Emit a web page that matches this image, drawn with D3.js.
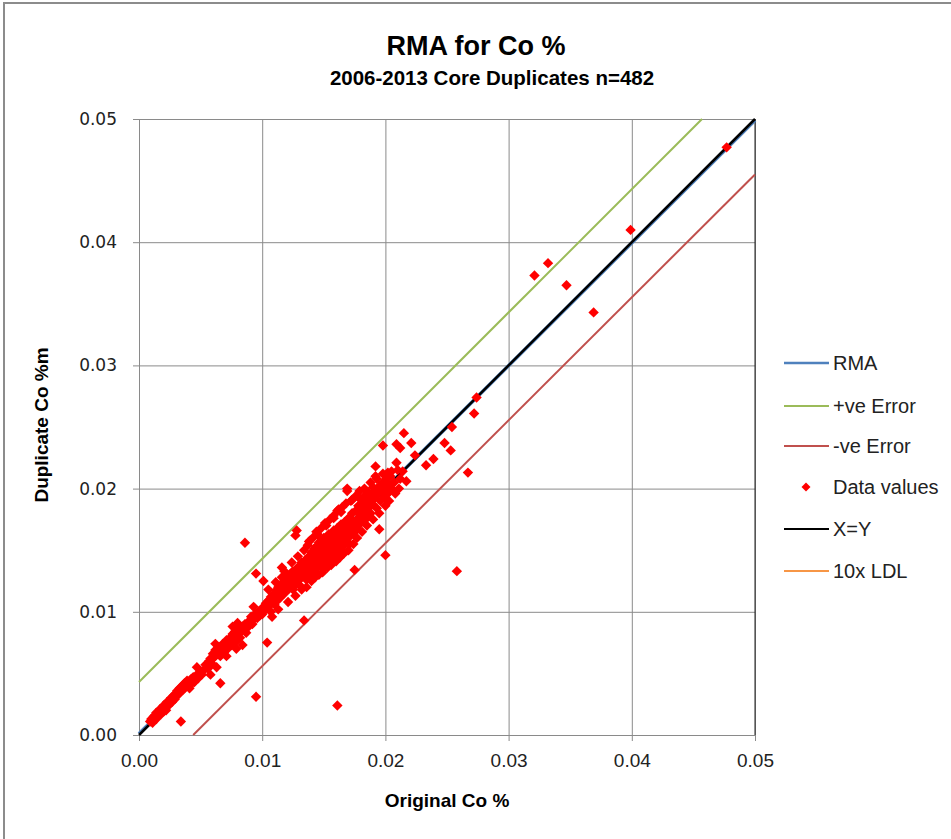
<!DOCTYPE html>
<html>
<head>
<meta charset="utf-8">
<script src="https://cdn.jsdelivr.net/npm/d3@7"></script>
<style>
  body { margin: 0; background: #fff; }
  svg { display: block; }
</style>
</head>
<body>
<div id="chart"></div>
<script>
// ---- data ----
var titleText = "RMA for Co %"
var subtitleText = "2006-2013 Core Duplicates n=482"
var xLabel = "Original Co %"
var yLabel = "Duplicate Co %m"
var tickValues = [0, 0.01, 0.02, 0.03, 0.04, 0.05]

// fitted / reference lines, as [x, y] end points
var rmaLine = [[0, 0.0001], [0.05, 0.0499]]
var posErrorLine = [[0, 0.0043], [0.0457, 0.05]]
var negErrorLine = [[0.0044, 0], [0.05, 0.0455]]
var xyLine = [[0, 0], [0.05, 0.05]]

var legendNames = ["RMA", "+ve Error", "-ve Error", "Data values", "X=Y", "10x LDL"]

// original vs duplicate Co %
var dataValues = [
  [0.0009,0.0011],[0.0010,0.0013],[0.0011,0.0010],[0.0012,0.0015],[0.0012,0.0012],[0.0013,0.0016],
  [0.0014,0.0013],[0.0014,0.0018],[0.0015,0.0015],[0.0016,0.0019],[0.0016,0.0016],[0.0017,0.0021],
  [0.0018,0.0017],[0.0018,0.0020],[0.0019,0.0022],[0.0020,0.0019],[0.0020,0.0024],[0.0021,0.0022],
  [0.0022,0.0025],[0.0022,0.0020],[0.0023,0.0027],[0.0024,0.0024],[0.0025,0.0028],[0.0025,0.0026],
  [0.0026,0.0030],[0.0027,0.0027],[0.0028,0.0032],[0.0029,0.0029],[0.0030,0.0034],[0.0030,0.0031],
  [0.0031,0.0036],[0.0032,0.0033],[0.0034,0.0011],
  [0.0033,0.0038],[0.0034,0.0035],[0.0035,0.0040],[0.0036,0.0037],[0.0037,0.0042],[0.0038,0.0039],
  [0.0039,0.0044],[0.0040,0.0041],[0.0041,0.0038],[0.0042,0.0045],[0.0043,0.0042],[0.0044,0.0047],
  [0.0045,0.0043],[0.0047,0.0049],[0.0048,0.0046],[0.0050,0.0052],[0.0051,0.0049],[0.0053,0.0053],
  [0.0054,0.0057],[0.0056,0.0054],[0.0057,0.0060],[0.0058,0.0062],[0.0059,0.0058],
  [0.0047,0.0055],[0.0058,0.0049],[0.0062,0.0074],[0.0071,0.0064],[0.0076,0.0088],[0.0079,0.0070],
  [0.0080,0.0091],
  [0.0060,0.0066],[0.0061,0.0063],[0.0062,0.0069],[0.0063,0.0055],[0.0064,0.0067],[0.0065,0.0071],
  [0.0066,0.0064],[0.0066,0.0042],[0.0067,0.0069],[0.0068,0.0074],[0.0069,0.0067],[0.0070,0.0072],
  [0.0071,0.0077],[0.0072,0.0070],[0.0073,0.0075],[0.0074,0.0079],[0.0075,0.0073],[0.0076,0.0082],
  [0.0077,0.0078],[0.0078,0.0084],[0.0079,0.0076],[0.0080,0.0081],[0.0081,0.0086],[0.0082,0.0079],
  [0.0083,0.0084],[0.0084,0.0073],[0.0084,0.0088],[0.0085,0.0086],[0.0086,0.0090],[0.0087,0.0083],
  [0.0088,0.0091],[0.0089,0.0088],[0.0090,0.0093],[0.0091,0.0096],[0.0092,0.0090],[0.0093,0.0104],
  [0.0093,0.0094],[0.0094,0.0098],[0.0095,0.0131],[0.0095,0.0031],[0.0096,0.0095],[0.0097,0.0100],
  [0.0098,0.0097],[0.0099,0.0101],[0.0086,0.0156],
  [0.0100,0.0098],[0.0101,0.0104],[0.0101,0.0125],[0.0102,0.0101],[0.0103,0.0107],[0.0104,0.0075],
  [0.0104,0.0103],[0.0105,0.0109],[0.0106,0.0105],[0.0107,0.0112],[0.0107,0.0100],[0.0108,0.0108],
  [0.0109,0.0114],[0.0110,0.0106],[0.0110,0.0111],[0.0111,0.0117],[0.0112,0.0109],[0.0112,0.0113],
  [0.0113,0.0120],[0.0114,0.0111],[0.0114,0.0116],[0.0115,0.0122],[0.0116,0.0113],[0.0116,0.0136],
  [0.0117,0.0118],[0.0117,0.0124],[0.0118,0.0115],[0.0119,0.0121],[0.0119,0.0126],[0.0120,0.0117],
  [0.0120,0.0123],[0.0121,0.0129],[0.0122,0.0119],[0.0122,0.0125],[0.0123,0.0131],[0.0124,0.0121],
  [0.0124,0.0127],[0.0125,0.0133],[0.0125,0.0118],[0.0126,0.0124],[0.0126,0.0130],[0.0127,0.0162],
  [0.0127,0.0122],[0.0128,0.0166],[0.0128,0.0128],[0.0128,0.0135],[0.0129,0.0125],[0.0130,0.0131],
  [0.0130,0.0137],[0.0131,0.0127],[0.0131,0.0121],[0.0132,0.0133],[0.0132,0.0140],[0.0133,0.0129],
  [0.0134,0.0093],[0.0134,0.0136],[0.0135,0.0131],[0.0135,0.0142],[0.0136,0.0126],[0.0136,0.0138],
  [0.0137,0.0134],[0.0138,0.0145],[0.0138,0.0140],[0.0139,0.0130],[0.0139,0.0136],[0.0138,0.0157],
  [0.0105,0.0118],[0.0108,0.0096],[0.0111,0.0124],[0.0113,0.0102],[0.0116,0.0128],[0.0118,0.0133],
  [0.0121,0.0108],[0.0124,0.0140],[0.0127,0.0113],[0.0129,0.0145],[0.0132,0.0118],[0.0134,0.0150],
  [0.0136,0.0120],[0.0137,0.0154],
  [0.0140,0.0142],[0.0140,0.0148],[0.0141,0.0137],[0.0141,0.0133],[0.0142,0.0144],[0.0142,0.0151],
  [0.0143,0.0139],[0.0143,0.0146],[0.0144,0.0135],[0.0144,0.0153],[0.0145,0.0141],[0.0145,0.0148],
  [0.0146,0.0144],[0.0146,0.0156],[0.0147,0.0138],[0.0147,0.0150],[0.0148,0.0146],[0.0148,0.0158],
  [0.0149,0.0142],[0.0149,0.0152],[0.0150,0.0148],[0.0150,0.0135],[0.0150,0.0160],[0.0151,0.0144],
  [0.0151,0.0154],[0.0152,0.0150],[0.0152,0.0140],[0.0153,0.0157],[0.0153,0.0146],[0.0154,0.0152],
  [0.0154,0.0163],[0.0155,0.0148],[0.0155,0.0158],[0.0156,0.0142],[0.0156,0.0154],[0.0157,0.0161],
  [0.0157,0.0150],[0.0158,0.0156],[0.0158,0.0166],[0.0159,0.0146],[0.0159,0.0159],[0.0160,0.0152],
  [0.0160,0.0163],[0.0161,0.0024],[0.0161,0.0157],[0.0161,0.0168],[0.0162,0.0149],[0.0162,0.0160],
  [0.0163,0.0155],[0.0163,0.0165],[0.0164,0.0151],[0.0164,0.0171],[0.0165,0.0158],[0.0165,0.0162],
  [0.0166,0.0154],[0.0166,0.0167],[0.0167,0.0160],[0.0167,0.0173],[0.0168,0.0156],[0.0168,0.0164],
  [0.0169,0.0169],[0.0169,0.0198],[0.0170,0.0161],[0.0170,0.0176],[0.0171,0.0166],[0.0171,0.0155],
  [0.0172,0.0171],[0.0172,0.0162],[0.0173,0.0168],[0.0173,0.0180],[0.0174,0.0164],[0.0174,0.0174],
  [0.0175,0.0134],[0.0175,0.0170],[0.0169,0.0200],[0.0173,0.0191],[0.0162,0.0183],[0.0179,0.0192],
  [0.0152,0.0170],[0.0158,0.0176],[0.0164,0.0181],[0.0145,0.0163],[0.0139,0.0158],
  [0.0140,0.0125],[0.0141,0.0160],[0.0143,0.0128],[0.0144,0.0165],[0.0146,0.0130],[0.0148,0.0168],
  [0.0149,0.0132],[0.0151,0.0172],[0.0153,0.0136],[0.0155,0.0175],[0.0156,0.0138],[0.0158,0.0178],
  [0.0160,0.0141],[0.0161,0.0182],[0.0163,0.0144],[0.0165,0.0185],[0.0166,0.0147],[0.0168,0.0188],
  [0.0170,0.0150],[0.0172,0.0190],[0.0174,0.0155],[0.0176,0.0194],[0.0177,0.0160],[0.0179,0.0198],
  [0.0181,0.0165],[0.0183,0.0200],[0.0185,0.0170],[0.0188,0.0205],[0.0190,0.0175],[0.0193,0.0208],
  [0.0195,0.0180],[0.0198,0.0212],[0.0200,0.0186],[0.0203,0.0190],[0.0205,0.0214],[0.0208,0.0196],
  [0.0211,0.0200],
  [0.0176,0.0172],[0.0176,0.0182],[0.0177,0.0167],[0.0178,0.0176],[0.0178,0.0186],[0.0179,0.0171],
  [0.0180,0.0179],[0.0181,0.0184],[0.0181,0.0174],[0.0182,0.0189],[0.0183,0.0178],[0.0183,0.0194],
  [0.0184,0.0183],[0.0185,0.0188],[0.0185,0.0176],[0.0186,0.0197],[0.0187,0.0185],[0.0187,0.0191],
  [0.0188,0.0180],[0.0189,0.0195],[0.0190,0.0187],[0.0190,0.0201],[0.0191,0.0192],[0.0192,0.0199],
  [0.0192,0.0210],[0.0192,0.0218],[0.0193,0.0184],[0.0194,0.0196],[0.0195,0.0167],[0.0195,0.0202],
  [0.0196,0.0190],[0.0197,0.0198],[0.0198,0.0205],[0.0198,0.0235],[0.0199,0.0193],[0.0200,0.0146],
  [0.0200,0.0201],[0.0201,0.0208],[0.0202,0.0196],[0.0202,0.0213],[0.0203,0.0203],[0.0204,0.0210],
  [0.0206,0.0199],[0.0207,0.0205],[0.0209,0.0221],[0.0209,0.0236],[0.0210,0.0215],[0.0212,0.0233],
  [0.0212,0.0208],[0.0215,0.0245],[0.0214,0.0214],[0.0217,0.0206],[0.0221,0.0237],[0.0224,0.0227],
  [0.0233,0.0219],[0.0239,0.0224],[0.0248,0.0237],[0.0253,0.0231],[0.0254,0.0250],[0.0258,0.0133],
  [0.0267,0.0213],[0.0272,0.0261],[0.0274,0.0274],
  [0.0321,0.0373],[0.0332,0.0383],[0.0347,0.0365],[0.0369,0.0343],[0.0399,0.0410],[0.0477,0.0477]
]

// ---- layout ----
var W = 951, H = 839
var margin = {top: 119, left: 139}
var plotW = 616, plotH = 616

var colors = {
  rma: "#4F81BD", pos: "#9BBB59", neg: "#C0504D",
  data: "#FF0000", xy: "#000000", ldl: "#F79646", grid: "#8a8a8a"
}

var svg = d3.select("#chart").append("svg")
  .attr("width", W).attr("height", H)

svg.append("rect").attr("width", W).attr("height", H).attr("fill", "#fff")

// outer chart frame (only left and top edges fall inside the picture)
svg.append("path")
  .attr("d", "M4," + H + " L4,3 L" + W + ",3")
  .attr("fill", "none").attr("stroke", "#8c8c8c").attr("stroke-width", 2)

var x = d3.scaleLinear().domain([0, 0.05]).range([0, plotW])
var y = d3.scaleLinear().domain([0, 0.05]).range([plotH, 0])

var g = svg.append("g")
  .attr("transform", "translate(" + margin.left + "," + margin.top + ")")

// grid + axes
g.append("g")
  .attr("transform", "translate(0," + plotH + ")")
  .call(d3.axisBottom(x).tickValues(tickValues).tickSize(-plotH).tickSizeOuter(0))
  .call(function (a) {
    a.select(".domain").attr("stroke", colors.grid)
    a.selectAll(".tick line").attr("stroke", colors.grid)
    a.selectAll(".tick text").remove()
  })

g.append("g")
  .call(d3.axisLeft(y).tickValues(tickValues).tickSize(-plotW).tickSizeOuter(0))
  .call(function (a) {
    a.select(".domain").attr("stroke", colors.grid)
    a.selectAll(".tick line").attr("stroke", colors.grid)
    a.selectAll(".tick text").remove()
  })

// small outside tick marks with labels
g.append("g")
  .attr("transform", "translate(0," + plotH + ")")
  .call(d3.axisBottom(x).tickValues(tickValues).tickSize(6).tickSizeOuter(0).tickFormat(d3.format(".2f")))
  .call(function (a) {
    a.select(".domain").remove()
    a.selectAll(".tick line").attr("stroke", colors.grid)
    a.selectAll(".tick text")
      .attr("y", 19).attr("dy", "0.71em")
      .style("font-family", "'Liberation Sans', Arial, sans-serif")
      .style("font-size", "19px").attr("fill", "#222")
  })

g.append("g")
  .call(d3.axisLeft(y).tickValues(tickValues).tickSize(6).tickSizeOuter(0).tickFormat(d3.format(".2f")))
  .call(function (a) {
    a.select(".domain").remove()
    a.selectAll(".tick line").attr("stroke", colors.grid)
    a.selectAll(".tick text")
      .attr("x", -22)
      .style("font-family", "'DejaVu Sans', Verdana, sans-serif")
      .style("font-size", "17px").attr("fill", "#222")
  })

// plot area right edge
g.append("line")
  .attr("x1", plotW).attr("x2", plotW).attr("y1", 0).attr("y2", plotH)
  .attr("stroke", "#222").attr("stroke-width", 1)

var line = d3.line()
  .x(function (d) { return x(d[0]) })
  .y(function (d) { return y(d[1]) })

g.append("path").datum(rmaLine).attr("d", line)
  .attr("fill", "none").attr("stroke", colors.rma).attr("stroke-width", 3.5)
g.append("path").datum(posErrorLine).attr("d", line)
  .attr("fill", "none").attr("stroke", colors.pos).attr("stroke-width", 2)
g.append("path").datum(negErrorLine).attr("d", line)
  .attr("fill", "none").attr("stroke", colors.neg).attr("stroke-width", 2)
g.append("path").datum(xyLine).attr("d", line)
  .attr("fill", "none").attr("stroke", colors.xy).attr("stroke-width", 2.5)

// diamonds
var diamond = "M0,-5.2L5.2,0L0,5.2L-5.2,0Z"
g.append("g")
  .selectAll("path")
  .data(dataValues)
  .enter()
  .append("path")
    .attr("d", diamond)
    .attr("transform", function (d) { return "translate(" + x(d[0]) + "," + y(d[1]) + ")" })
    .attr("fill", colors.data)

// titles
svg.append("text")
  .attr("x", 476).attr("y", 55).attr("text-anchor", "middle")
  .style("font-family", "'Liberation Sans', Arial, sans-serif")
  .style("font-size", "27px").style("font-weight", "bold")
  .text(titleText)

svg.append("text")
  .attr("x", 492).attr("y", 85).attr("text-anchor", "middle")
  .style("font-family", "'Liberation Sans', Arial, sans-serif")
  .style("font-size", "20.5px").style("font-weight", "bold")
  .text(subtitleText)

svg.append("text")
  .attr("x", 447).attr("y", 807).attr("text-anchor", "middle")
  .style("font-family", "'Liberation Sans', Arial, sans-serif")
  .style("font-size", "19px").style("font-weight", "bold")
  .text(xLabel)

svg.append("text")
  .attr("transform", "translate(48," + 425 + ") rotate(-90)")
  .attr("text-anchor", "middle")
  .style("font-family", "'Liberation Sans', Arial, sans-serif")
  .style("font-size", "19px").style("font-weight", "bold")
  .text(yLabel)

// legend
var legendColors = [colors.rma, colors.pos, colors.neg, colors.data, colors.xy, colors.ldl]
var legendY = [363, 406, 446, 487, 529, 571]
var leg = svg.append("g")
legendNames.forEach(function (name, i) {
  if (name === "Data values") {
    leg.append("path").attr("d", "M0,-4.5L4.5,0L0,4.5L-4.5,0Z")
      .attr("transform", "translate(806," + legendY[i] + ")")
      .attr("fill", colors.data)
  } else {
    leg.append("line")
      .attr("x1", 784).attr("x2", 829)
      .attr("y1", legendY[i]).attr("y2", legendY[i])
      .attr("stroke", legendColors[i]).attr("stroke-width", name === "RMA" ? 2.5 : 2)
  }
  leg.append("text")
    .attr("x", 833).attr("y", legendY[i]).attr("dy", "0.35em")
    .style("font-family", "'Liberation Sans', Arial, sans-serif")
    .style("font-size", "20px").attr("fill", "#222")
    .text(name)
})
</script>
</body>
</html>
